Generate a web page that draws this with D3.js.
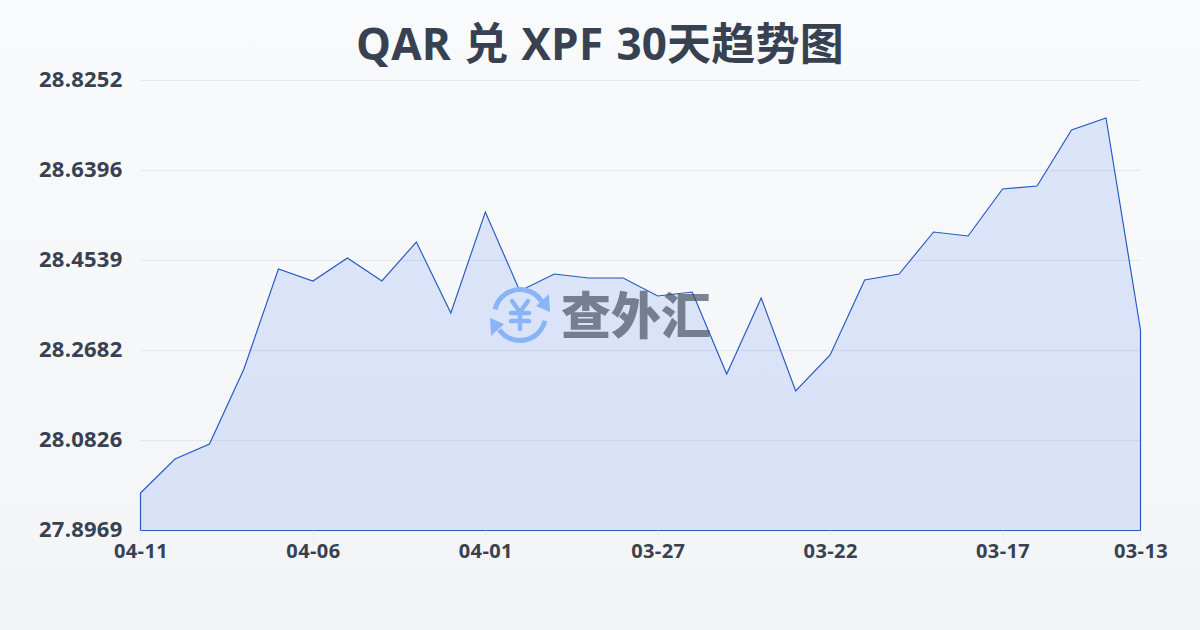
<!DOCTYPE html>
<html><head><meta charset="utf-8">
<script src="https://cdn.jsdelivr.net/npm/d3@7/dist/d3.min.js"></script>
<style>html,body{margin:0;padding:0;background:#f9fafb}svg{display:block}
text{font-family:"Open Sans","Noto Sans CJK SC",sans-serif}</style></head>
<body><div id="c"></div>
<script>
const dates=["04-11","04-10","04-09","04-08","04-07","04-06","04-05","04-04","04-03","04-02","04-01","03-31","03-30","03-29","03-28","03-27","03-26","03-25","03-24","03-23","03-22","03-21","03-20","03-19","03-18","03-17","03-16","03-15","03-14","03-13"];
const rates=[27.9743,28.0444,28.0753,28.2301,28.4363,28.4116,28.4590,28.4116,28.4920,28.3456,28.5539,28.3910,28.4260,28.4178,28.4178,28.3807,28.3889,28.2197,28.3765,28.1847,28.2589,28.4137,28.4260,28.5127,28.5044,28.6014,28.6076,28.7231,28.7479,28.3105];
const yTicks=[27.8969,28.0826,28.2682,28.4539,28.6396,28.8252];
const xTicks=["04-11","04-06","04-01","03-27","03-22","03-17","03-13"];
const titleText="QAR 兑 XPF 30天趋势图";
const logoText="查外汇";

const W=1200,H=630,m={l:140.5,r:1140.5,t:80.5,b:530.5};
const svg=d3.select("#c").append("svg").attr("width",W).attr("height",H);
const defs=svg.append("defs");
const bg=defs.append("linearGradient").attr("id","bg").attr("x1",0).attr("y1",0).attr("x2",0).attr("y2",1);
bg.append("stop").attr("offset",0).attr("stop-color","#f9fafc");
bg.append("stop").attr("offset",1).attr("stop-color","#f3f4f6");
svg.append("rect").attr("width",W).attr("height",H).attr("fill","url(#bg)");

const x=d3.scalePoint().domain(dates).range([m.l,m.r]);
const y=d3.scaleLinear().domain([yTicks[0],yTicks[yTicks.length-1]]).range([m.b,m.t]);

svg.append("text").attr("x",600).attr("y",60).attr("text-anchor","middle")
 .attr("font-size",44).attr("font-weight",700).attr("fill","#374151")
 .style("letter-spacing","0.2px").style("word-spacing","1.5px").text(titleText);

// grid
svg.append("g").selectAll("line").data(yTicks.slice(1)).join("line")
 .attr("x1",m.l).attr("x2",m.r).attr("y1",d=>y(d)).attr("y2",d=>y(d))
 .attr("stroke","#e5e7eb").attr("stroke-width",1);

// area + line
const area=d3.area().x((d,i)=>x(dates[i])).y0(m.b).y1(d=>y(d));
svg.append("path").datum(rates).attr("d",area).attr("fill","#1d5bf0").attr("fill-opacity",0.13);
svg.append("path").datum(rates).attr("d",area).attr("fill","none").attr("stroke","#2557c4").attr("stroke-width",1.15);

// axes
const yAxis=d3.axisLeft(y).tickValues(yTicks).tickSize(0).tickPadding(18).tickFormat(d3.format(".4f"));
const yg=svg.append("g").attr("transform",`translate(${m.l},-1)`).call(yAxis);
yg.select(".domain").remove();
yg.selectAll("text").attr("font-size",22).attr("font-weight",700).attr("fill","#374151")
 .style("letter-spacing","0.25px")
 .style("font-family",'"Open Sans","Noto Sans CJK SC",sans-serif');
const xAxis=d3.axisBottom(x).tickValues(xTicks).tickSize(10).tickPadding(3);
const xg=svg.append("g").attr("transform",`translate(0,${m.b})`).call(xAxis);
xg.select(".domain").remove();
xg.selectAll("line").attr("stroke","#e5e7eb").attr("stroke-opacity",0.7);
xg.selectAll("text").attr("font-size",20).attr("font-weight",700).attr("fill","#374151")
 .style("letter-spacing","0.4px")
 .style("font-family",'"Open Sans","Noto Sans CJK SC",sans-serif');

// watermark logo
const logo=svg.append("g");
const ic=logo.append("g").attr("transform","translate(520,315)").attr("fill","none").attr("stroke","#8ab4f8");
ic.append("path").attr("d",d3.arc()({innerRadius:23,outerRadius:28,startAngle:-1.35,endAngle:1.0})).attr("fill","#8ab4f8").attr("stroke","none");
ic.append("path").attr("d",d3.arc()({innerRadius:23,outerRadius:28,startAngle:1.8,endAngle:4.1})).attr("fill","#8ab4f8").attr("stroke","none");
ic.append("path").attr("d","M30 -3 L16 -9 L29 -21 Z").attr("fill","#8ab4f8").attr("stroke","none");
ic.append("path").attr("d","M-30 3 L-16 9 L-29 21 Z").attr("fill","#8ab4f8").attr("stroke","none");
ic.append("path").attr("d","M-8 -14 L0 -3 L8 -14 M-9 -2 H9 M-9 6 H9 M0 -3 V14").attr("stroke-width",4.5).attr("stroke-linecap","round").attr("stroke-linejoin","round");
logo.append("text").attr("x",636).attr("y",334).attr("text-anchor","middle").attr("font-size",50).attr("font-weight",900)
 .attr("fill","#4b5263").attr("fill-opacity",0.7).text(logoText);
</script></body></html>
